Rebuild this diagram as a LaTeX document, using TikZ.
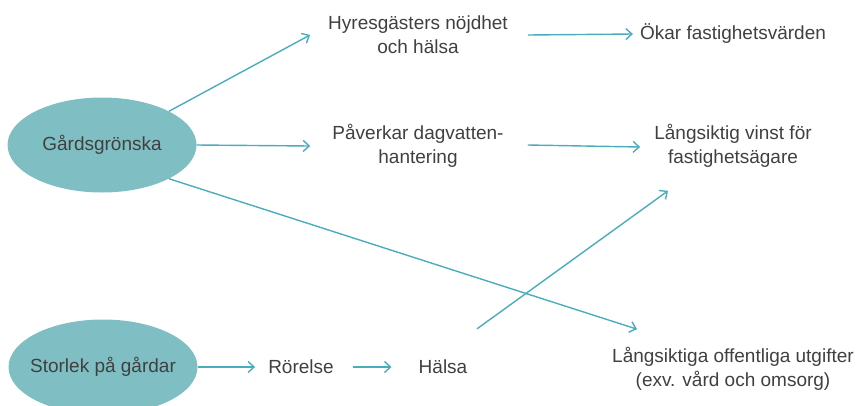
\documentclass[tikz,border=0pt]{standalone}
\usepackage{fontspec}
\setmainfont{Liberation Sans}
\usetikzlibrary{shapes.geometric,arrows.meta}
\definecolor{blob}{RGB}{127,191,196}
\definecolor{link}{RGB}{75,172,189}
\definecolor{ink}{RGB}{64,64,64}
\tikzset{
  cause/.style={ellipse, fill=blob, minimum width=189pt, minimum height=95pt, inner sep=0pt, inner xsep=-8pt},
  effect/.style={align=center, inner sep=0pt},
  link/.style={draw=link, line width=1.4pt, -{Straight Barb[length=6pt,width=11pt]}}
}
\begin{document}
\begin{tikzpicture}[x=1pt, y=-1pt, text=ink, font=\fontsize{19}{24}\selectfont]
  \useasboundingbox (0,0) rectangle (856,405);
  \clip (0,0) rectangle (856,405);
  \node [cause]  (grn)   at (102,145) {Gårdsgrönska};
  \node [cause]  (strl)  at (103,367) {Storlek på gårdar};
  \node [effect] (hyr)   at (418,35)  {Hyresgästers nöjdhet\\och hälsa};
  \node [effect] (dag)   at (418,146) {Påverkar dagvatten-\\hantering};
  \node [effect] (okar)  at (733,34)  {Ökar fastighetsvärden};
  \node [effect] (vinst) at (733,146) {Långsiktig vinst för\\fastighetsägare};
  \node [effect] (utg)   at (733,369) {Långsiktiga offentliga utgifter\\(exv. vård och omsorg)};
  \node [effect] (rors)  at (301,367) {Rörelse};
  \node [effect] (hals)  at (443,367) {Hälsa};
  \draw [link] (grn.north east) -- ([xshift=-18pt]hyr.west);
  \draw [link] (grn.east) -- ([xshift=-22pt]dag.west);
  \draw [link] (grn.south east) -- ([xshift=25pt,yshift=18pt]utg.north west);
  \draw [link] ([xshift=20pt]hyr.east) -- ([xshift=-7pt]okar.west);
  \draw [link] ([xshift=24pt,yshift=1pt]dag.east) -- ([xshift=-14pt,yshift=-1pt]vinst.west);
  \draw [link] ([xshift=34pt,yshift=31pt]hals.north) -- ([xshift=-65pt,yshift=-23pt]vinst.south);
  \draw [link] (strl.east) -- ([xshift=-13pt]rors.west);
  \draw [link] ([xshift=19pt]rors.east) -- ([xshift=-27pt]hals.west);
\end{tikzpicture}
\end{document}
